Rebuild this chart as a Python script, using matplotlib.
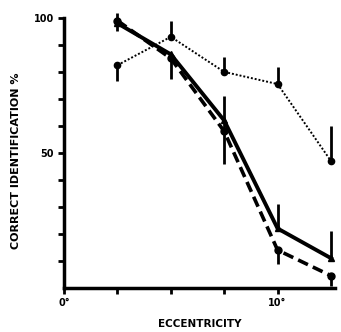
import numpy as np
import matplotlib
matplotlib.use("Agg")
import matplotlib.pyplot as plt

# eccentricity in degrees
ecc = [2.5, 5, 7.5, 10, 12.5]

# dotted series
dot_y = [82.5, 93, 80, 75.5, 47]
dot_up = [0, 6, 5.5, 6.5, 13]
dot_dn = [6, 0, 0, 0, 0]

# solid series (triangles)
sol_y = [98, 86.5, 62, 22, 11]
sol_up = [4, 0, 0, 9, 10]
sol_dn = [0, 9, 0, 0, 0]

# dashed series
das_y = [99, 85, 58, 14, 4.5]
das_up = [0, 0, 13, 0, 0]
das_dn = [4, 0, 12, 5, 4]

ytick_vals = [10, 20, 30, 40, 50, 60, 70, 80, 90, 100]
ytick_labels = ['', '', '', '', '50', '', '', '', '', '100']
xtick_vals = [0, 2.5, 5, 7.5, 10]
xtick_labels = ['0°', '', '', '', '10°']

fig = plt.figure(figsize=(3.41, 3.32), dpi=100)
ax = fig.add_axes([0.188, 0.133, 0.795, 0.813])

def draw(y, up, dn, ls, marker, ms, lw):
    ax.plot(ecc, y, color='black', linestyle=ls, linewidth=lw,
            marker=marker, markersize=ms, markerfacecolor='black',
            markeredgecolor='black', clip_on=False)
    ax.errorbar(ecc, y, yerr=[dn, up], fmt='none', ecolor='black',
                elinewidth=2, capsize=0, clip_on=False)

draw(dot_y, dot_up, dot_dn, (0, (1, 1)), 'o', 4.5, 1.4)
draw(sol_y, sol_up, sol_dn, '-', '^', 5, 2.8)
draw(das_y, das_up, das_dn, (0, (3, 1.5)), 'o', 5, 2.6)

ax.set_xlim(0, 12.7)
ax.set_ylim(0, 100)
for s in ['top', 'right']:
    ax.spines[s].set_visible(False)
for s in ['left', 'bottom']:
    ax.spines[s].set_linewidth(2.5)

ax.set_yticks(ytick_vals)
ax.set_yticklabels(ytick_labels, fontsize=7, fontweight='bold')
ax.set_xticks(xtick_vals)
ax.set_xticklabels(xtick_labels, fontsize=7, fontweight='bold')
ax.tick_params(axis='both', direction='out', width=2, length=4)

ax.set_xlabel('ECCENTRICITY', fontsize=7.5, fontweight='bold', labelpad=8)
ax.set_ylabel('CORRECT IDENTIFICATION %', fontsize=8, fontweight='bold')
ax.yaxis.set_label_coords(-0.16, 0.47)

fig.savefig('out.png', dpi=100)
